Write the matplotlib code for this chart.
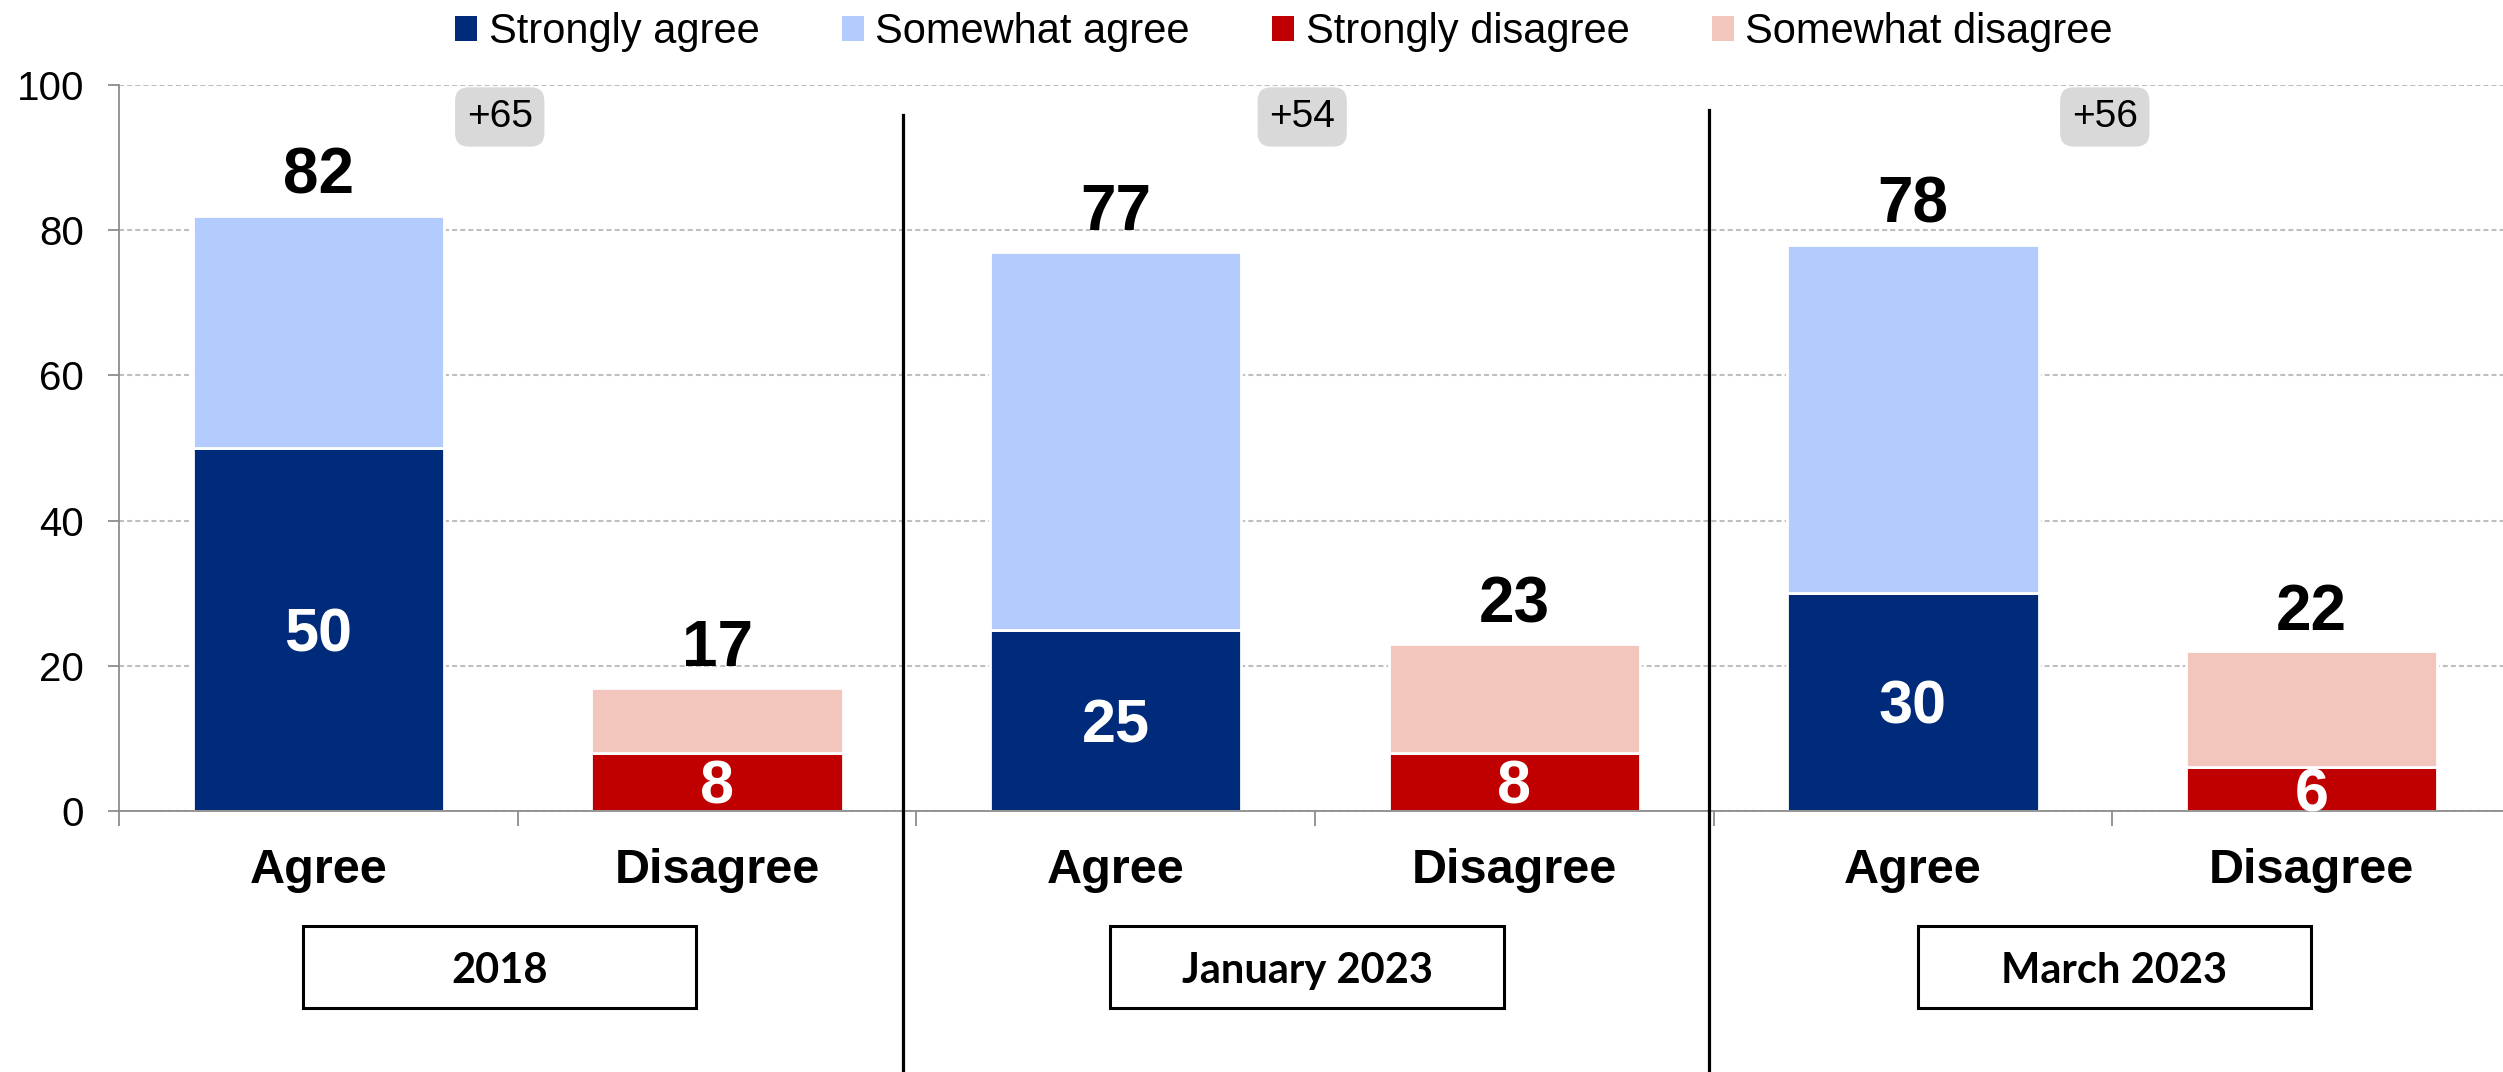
import matplotlib
matplotlib.use("Agg")
import matplotlib.pyplot as plt
from matplotlib.patches import Patch, Rectangle
from matplotlib import transforms

# ---------------- data ----------------
groups = ['2018', 'January 2023', 'March 2023']
categories = ['Agree', 'Disagree']
strongly_agree = [50, 25, 30]
somewhat_agree = [32, 52, 48]
strongly_disagree = [8, 8, 6]
somewhat_disagree = [9, 15, 16]
total_agree = [82, 77, 78]
total_disagree = [17, 23, 22]
net_labels = ['+65', '+54', '+56']
yticks = [0, 20, 40, 60, 80, 100]
legend_labels = ['Strongly agree', 'Somewhat agree', 'Strongly disagree', 'Somewhat disagree']

# ---------------- style ----------------
C_SA = '#002A7A'
C_WA = '#B3CCFD'
C_SD = '#C00000'
C_WD = '#F2C6BD'
AX_GRAY = '#8C8C8C'
GRID = '#BFBFBF'

plt.rcParams['font.family'] = ['Liberation Sans', 'DejaVu Sans']

W, H = 2503, 1072
fig = plt.figure(figsize=(W / 100, H / 100), dpi=100)
left_px, right_px = 119, 2511
zero_px, top_px = 811, 85
ax = fig.add_axes([left_px / W, 1 - zero_px / H, (right_px - left_px) / W, (zero_px - top_px) / H])

ax.set_xlim(-0.5, 5.5)
ax.set_ylim(0, 100)

bw = 0.63
xa = [2 * g for g in range(len(groups))]
xd = [2 * g + 1 for g in range(len(groups))]

ax.bar(xa, strongly_agree, width=bw, color=C_SA, edgecolor='white', linewidth=2, zorder=2)
ax.bar(xa, somewhat_agree, bottom=strongly_agree, width=bw, color=C_WA, edgecolor='white', linewidth=2, zorder=2)
ax.bar(xd, strongly_disagree, width=bw, color=C_SD, edgecolor='white', linewidth=2, zorder=2)
ax.bar(xd, somewhat_disagree, bottom=strongly_disagree, width=bw, color=C_WD, edgecolor='white', linewidth=2, zorder=2)

# grid
ax.set_yticks(yticks)
ax.set_yticklabels([str(t) for t in yticks], fontsize=29)
ax.yaxis.grid(True, color=GRID, linestyle=(0, (2.4, 1.5)), linewidth=1.5)
ax.set_axisbelow(True)

# spines / ticks
for s in ['top', 'right']:
    ax.spines[s].set_visible(False)
for s in ['left', 'bottom']:
    ax.spines[s].set_color(AX_GRAY)
    ax.spines[s].set_linewidth(1.3)
    ax.spines[s].set_zorder(3)
ax.tick_params(axis='y', length=8, width=1.3, color=AX_GRAY, pad=17)
ax.set_xticks([i - 0.5 for i in range(7)])
ax.set_xticklabels([])
ax.tick_params(axis='x', length=11, width=1.3, color=AX_GRAY)

# labels
base_off = transforms.offset_copy(ax.transData, fig=fig, y=-0.358 * 44, units='points')
for g in range(len(groups)):
    for x, strong, total in [(xa[g], strongly_agree[g], total_agree[g]),
                             (xd[g], strongly_disagree[g], total_disagree[g])]:
        ax.text(x, total + 3, str(total), ha='center', va='baseline', fontsize=46,
                fontweight='bold', color='black', zorder=4)
        ax.text(x, strong / 2, str(strong), ha='center', va='baseline', fontsize=44,
                fontweight='bold', color='white', transform=base_off, zorder=4, clip_on=False)
    for x, cat in zip([xa[g], xd[g]], categories):
        ax.text(x, -9.9, cat, ha='center', va='baseline', fontsize=35, fontweight='bold',
                clip_on=False)
    # group box
    cx = 2 * g + 0.455 + 0.025 * g
    ax.add_patch(Rectangle((cx - 0.493, -27.1), 0.986, 11.26, facecolor='white',
                           edgecolor='black', linewidth=2.2, clip_on=False, zorder=3))
    ax.text(cx, -23.7, groups[g], ha='center', va='baseline', fontsize=30,
            fontweight='bold', family=['Lato', 'Liberation Sans'], clip_on=False, zorder=4)
    # net badge
    nx = 2 * g + 0.455 + 0.013 * g
    ax.text(nx, 95.6, net_labels[g], ha='center', va='center', fontsize=28, color='black',
            bbox=dict(boxstyle='round,pad=0.3,rounding_size=0.35', fc='#D9D9D9', ec='none'),
            clip_on=False, zorder=4)

# separators
for sx, top in [(1.466, 95.9), (3.488, 96.6)]:
    ax.plot([sx, sx], [-36, top], color='black', linewidth=2.3, clip_on=False, zorder=5)

# legend
handles = [Patch(facecolor=c) for c in [C_SA, C_WA, C_SD, C_WD]]
fig.legend(handles, legend_labels, loc='center', bbox_to_anchor=(0.513, 0.970), ncol=4,
           frameon=False, fontsize=30, handlelength=0.53, handleheight=0.53,
           handletextpad=0.28, columnspacing=1.97, borderaxespad=0, borderpad=0)

fig.savefig('out.png', dpi=100)
